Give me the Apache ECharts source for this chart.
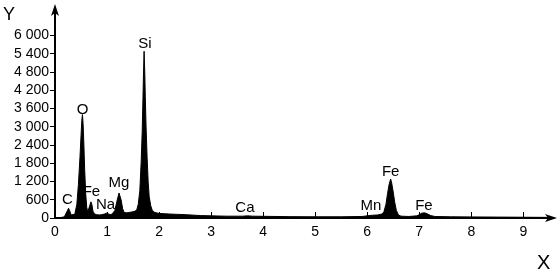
<!DOCTYPE html>
<html>
<head>
<meta charset="utf-8">
<script src="https://cdn.jsdelivr.net/npm/echarts@6/dist/echarts.min.js"></script>
<style>
html,body{margin:0;padding:0;background:#fff;}
#chart{width:560px;height:272px;}
</style>
</head>
<body>
<div id="chart"></div>
<script>
// Spectrum (energy in keV, counts)
var energy = [0.00,0.10,0.18,0.21,0.24,0.26,0.28,0.31,0.34,0.38,0.42,0.45,0.48,0.50,0.515,0.527,0.54,0.555,0.57,0.59,0.61,0.63,0.65,0.67,0.69,0.71,0.73,0.76,0.80,0.85,0.90,0.95,0.99,1.02,1.06,1.10,1.15,1.19,1.23,1.25,1.27,1.30,1.33,1.38,1.45,1.52,1.57,1.60,1.63,1.655,1.675,1.69,1.70,1.712,1.725,1.735,1.75,1.77,1.79,1.81,1.84,1.87,1.92,2.0,2.2,2.5,2.8,3.0,3.3,3.6,3.7,3.8,4.0,4.5,5.0,5.5,5.9,6.0,6.1,6.2,6.28,6.32,6.36,6.39,6.42,6.45,6.47,6.50,6.53,6.56,6.60,6.65,6.8,6.95,7.0,7.05,7.1,7.15,7.22,7.3,7.6,8.0,8.5,9.0,9.5];
var counts = [0,10,40,100,250,320,250,100,60,120,450,1100,2000,2700,3200,3400,3100,2400,1600,800,350,200,250,420,530,430,220,130,110,100,110,130,160,140,110,130,250,550,820,800,600,300,180,170,190,210,260,450,900,1800,2800,3900,4700,5480,4800,4000,3000,2000,1200,700,400,250,180,150,130,110,80,70,60,60,70,60,55,45,40,40,50,70,90,100,130,200,450,800,1100,1280,1150,850,500,250,100,60,50,70,110,160,170,140,80,50,40,35,30,25,20];

// Peak annotations
var peakNames = ['C','O','Fe','Na','Mg','Si','Ca','Mn','Fe','Fe'];
var peakE     = [0.24,0.528,0.70,0.97,1.23,1.73,3.65,6.07,6.45,7.09];
var peakV     = [591,3565,854,444,1150,5734,345,411,1511,394];

// Axis ticks
var xTicks = [0,1,2,3,4,5,6,7,8,9];
var yTicks = [0,600,1200,1800,2400,3000,3600,4200,4800,5400,6000];

var spectrum = energy.map(function(e,i){return [e,counts[i]];});
var labels = peakNames.map(function(n,i){return {name:n,value:[peakE[i],peakV[i]]};});

var font = 'Liberation Sans, Arial, sans-serif';
var chart = echarts.init(document.getElementById('chart'), null, {renderer:'canvas'});
chart.setOption({
  animation:false,
  backgroundColor:'#fff',
  grid:{left:55,right:7,top:8,bottom:54},
  xAxis:{
    type:'value',min:0,max:9.57,
    axisLine:{show:true,lineStyle:{color:'#000',width:2},symbol:['none','arrow'],symbolSize:[6,12],symbolOffset:[0,4]},
    axisTick:{show:true,inside:true,length:6,lineStyle:{color:'#000',width:1},customValues:xTicks},
    axisLabel:{color:'#000',fontFamily:font,fontSize:14,margin:7,customValues:xTicks},
    splitLine:{show:false}
  },
  yAxis:{
    type:'value',min:0,max:6900,
    axisLine:{show:true,lineStyle:{color:'#000',width:2},symbol:['none','arrow'],symbolSize:[6,12],symbolOffset:[0,4]},
    axisTick:{show:true,inside:false,length:5,lineStyle:{color:'#000',width:1},customValues:yTicks},
    axisLabel:{color:'#000',fontFamily:font,fontSize:14,margin:6,customValues:yTicks,
      formatter:function(v){return String(v).replace(/\B(?=(\d{3})+(?!\d))/g,' ');}},
    splitLine:{show:false}
  },
  graphic:[
    {type:'text',left:3,top:6,style:{text:'Y',font:'18px '+font,fill:'#000'}},
    {type:'text',left:537,top:253,style:{text:'X',font:'20px '+font,fill:'#000'}}
  ],
  series:[
    {type:'line',data:spectrum,showSymbol:false,symbol:'none',
     lineStyle:{color:'#000',width:1},areaStyle:{color:'#000',opacity:1},z:2},
    {type:'scatter',data:labels,symbolSize:0,z:3,silent:true,
     itemStyle:{opacity:1,color:'#000'},
     label:{show:true,position:'inside',formatter:'{b}',color:'#000',opacity:1,fontFamily:font,fontSize:15}}
  ]
});
</script>
</body>
</html>
